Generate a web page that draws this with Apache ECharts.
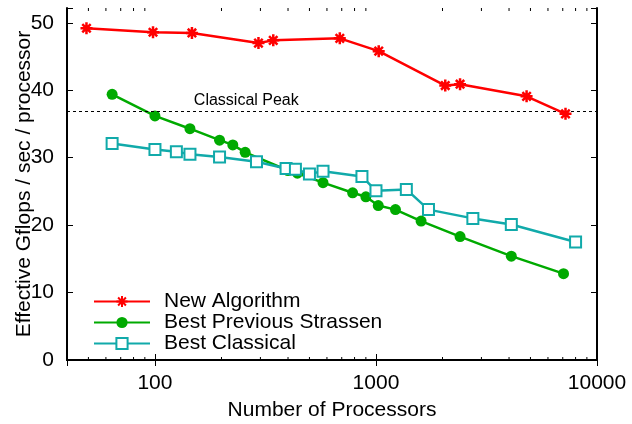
<!DOCTYPE html>
<html><head><meta charset="utf-8">
<script src="https://cdn.jsdelivr.net/npm/echarts@6/dist/echarts.min.js"></script>
<style>html,body{margin:0;padding:0;background:#fff}#c{width:632px;height:424px}</style>
</head><body><div id="c"></div>
<script>
const FONT = "'Liberation Sans', Arial, sans-serif";
const newX = [49, 98, 147, 294, 343, 686, 1029, 2058, 2401, 4802, 7203];
const newY = [49.2, 48.6, 48.5, 47.0, 47.4, 47.7, 45.8, 40.7, 40.9, 39.1, 36.5];
const strX = [64, 100, 144, 196, 225, 256, 400, 441, 576, 784, 900, 1024, 1225, 1600, 2401, 4096, 7056];
const strY = [39.4, 36.2, 34.3, 32.6, 31.9, 30.8, 28.1, 27.7, 26.3, 24.8, 24.2, 22.9, 22.3, 20.6, 18.3, 15.4, 12.8];
const clsX = [64, 100, 125, 144, 196, 288, 392, 432, 500, 576, 864, 1000, 1372, 1728, 2744, 4096, 8000];
const clsY = [32.1, 31.2, 30.9, 30.5, 30.1, 29.4, 28.4, 28.3, 27.6, 28.0, 27.2, 25.1, 25.3, 22.3, 21.0, 20.1, 17.5];
const classicalPeak = 36.9;
const peakLabelX = 259;
const xMin = 40, xMax = 10000, yMin = 0, yMax = 52.2;
const xMinor = [50,60,70,80,90,200,300,400,500,600,700,800,900,2000,3000,4000,5000,6000,7000,8000,9000];
const names = ['New Algorithm', 'Best Previous Strassen', 'Best Classical'];

const zip = (xs, ys) => xs.map((x, i) => [x, ys[i]]);
const chart = echarts.init(document.getElementById('c'));
const axisLine = {show: true, lineStyle: {color: '#000', width: 2}};
const tick = {show: true, inside: true, length: 6, lineStyle: {color: '#000', width: 1}};
const star = 'path://M0,5 L10,5 M5,0 L5,10 M1.5,1.5 L8.5,8.5 M8.5,1.5 L1.5,8.5';

chart.setOption({
  animation: false,
  textStyle: {fontFamily: FONT},
  grid: {left: 67, right: 35, top: 8, bottom: 64, show: false, containLabel: false, outerBoundsMode: 'none'},
  legend: {
    data: names, orient: 'vertical', left: 93, top: 291, itemGap: 0, padding: 0,
    itemWidth: 56, itemHeight: 14,
    textStyle: {fontSize: 21, lineHeight: 20.5, color: '#000', fontFamily: FONT, padding: [0, 0, 0, 9]},
    selectedMode: false
  },
  xAxis: [{
    type: 'log', logBase: 10, min: xMin, max: xMax, position: 'bottom',
    name: 'Number of Processors', nameLocation: 'middle', nameGap: 40, nameMoveOverlap: false,
    nameTextStyle: {fontSize: 21, color: '#000', fontFamily: FONT},
    axisLine: axisLine, axisTick: tick,
    axisLabel: {fontSize: 21, color: '#000', margin: 13, showMinLabel: false,
      formatter: v => ([100, 1000, 10000].includes(Math.round(v)) ? String(Math.round(v)) : '')},
    splitLine: {show: false}
  }, {
    type: 'log', logBase: 10, min: xMin, max: xMax, position: 'top',
    axisLine: axisLine, axisTick: tick,
    axisLabel: {show: false}, splitLine: {show: false}
  }],
  yAxis: [{
    type: 'value', min: yMin, max: yMax, interval: 10, position: 'left',
    name: 'Effective Gflops / sec / processor', nameLocation: 'middle', nameGap: 32, nameMoveOverlap: false,
    nameTextStyle: {fontSize: 21, color: '#000', fontFamily: FONT},
    axisLine: axisLine, axisTick: tick,
    axisLabel: {fontSize: 21, color: '#000', margin: 13,
      formatter: v => (Math.abs(v % 10) < 1e-6 ? String(v) : '')},
    splitLine: {show: false}
  }, {
    type: 'value', min: yMin, max: yMax, interval: 10, position: 'right',
    axisLine: axisLine, axisTick: tick,
    axisLabel: {show: false}, splitLine: {show: false}
  }],
  series: [{
    name: names[0], type: 'line', data: zip(newX, newY),
    symbol: star, symbolSize: 12,
    lineStyle: {color: '#ff0000', width: 2.5},
    itemStyle: {color: '#ff0000', borderColor: '#ff0000', borderWidth: 2.5},
    emphasis: {disabled: true}, z: 5,
    markLine: {
      silent: true, symbol: 'none', animation: false,
      lineStyle: {color: '#000', type: [3, 3], width: 1.2},
      label: {show: false},
      data: [{yAxis: classicalPeak}]
    },
    markPoint: {
      silent: true, symbol: 'circle', symbolSize: 0,
      label: {show: true, position: 'top', distance: 3, formatter: 'Classical Peak',
        fontSize: 16, color: '#000', fontFamily: FONT},
      data: [{coord: [peakLabelX, classicalPeak]}]
    }
  }, {
    name: names[1], type: 'line', data: zip(strX, strY),
    symbol: 'circle', symbolSize: 11,
    lineStyle: {color: '#00aa00', width: 2.5},
    itemStyle: {color: '#00aa00'},
    emphasis: {disabled: true}, z: 3
  }, {
    name: names[2], type: 'line', data: zip(clsX, clsY),
    symbol: 'emptyRect', symbolSize: 11,
    lineStyle: {color: '#11aaaa', width: 2.5},
    itemStyle: {color: '#11aaaa', borderColor: '#11aaaa', borderWidth: 2.5},
    emphasis: {disabled: true}, z: 4
  }, {
    type: 'custom', silent: true, data: xMinor.map(v => [v, 0]),
    renderItem: (params, api) => {
      const p = api.coord([api.value(0), 0]);
      const cs = params.coordSys;
      const st = {stroke: '#000', lineWidth: 1};
      return {type: 'group', children: [
        {type: 'line', shape: {x1: p[0], y1: cs.y + cs.height, x2: p[0], y2: cs.y + cs.height - 3}, style: st},
        {type: 'line', shape: {x1: p[0], y1: cs.y, x2: p[0], y2: cs.y + 3}, style: st}
      ]};
    }, z: 10
  }]
});
</script></body></html>
